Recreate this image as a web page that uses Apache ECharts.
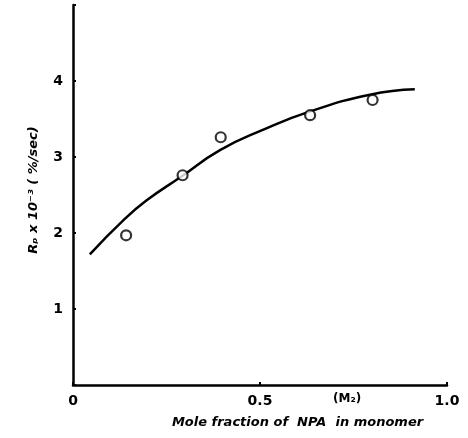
<!DOCTYPE html>
<html>
<head>
<meta charset="utf-8">
<script src="https://cdn.jsdelivr.net/npm/echarts@6/dist/echarts.min.js"></script>
<style>
  html, body { margin: 0; padding: 0; background: #fff; }
  #main { width: 468px; height: 438px; }
</style>
</head>
<body>
<div id="main"></div>
<script>
// measured points (mole fraction, Rp x 10^-3)
var pointX = [0.142, 0.293, 0.395, 0.634, 0.801];
var pointY = [1.97, 2.76, 3.26, 3.55, 3.75];

// fitted curve drawn through the points
var curveX = [0.045, 0.135, 0.197, 0.286, 0.393, 0.509, 0.634, 0.794, 0.914];
var curveY = [1.72, 2.17, 2.43, 2.73, 3.09, 3.36, 3.60, 3.82, 3.89];

var xTicks = { 0: "0", 0.5: "0.5", 1: "1.0" };

var chart = echarts.init(document.getElementById("main"));
var font = "DejaVu Sans";

var option = {
  backgroundColor: "#fff",
  animation: false,
  grid: { left: 73, right: 21, top: 5, bottom: 53, outerBoundsMode: "none", containLabel: false },
  xAxis: {
    type: "value",
    min: 0,
    max: 1,
    interval: 0.5,
    name: "Mole fraction of  NPA  in monomer",
    nameLocation: "middle",
    nameGap: 31,
    nameTextStyle: {
      fontFamily: font, fontSize: 13, fontWeight: "bold", fontStyle: "italic",
      color: "#000", padding: [0, 0, 0, 75]
    },
    axisLine: { lineStyle: { color: "#000", width: 2.5 } },
    axisTick: { show: true, inside: true, length: 3, lineStyle: { color: "#000", width: 2 } },
    axisLabel: {
      fontFamily: font, fontSize: 14, fontWeight: "bold", color: "#000", margin: 9,
      formatter: function (v) { return xTicks[v] !== undefined ? xTicks[v] : ""; }
    },
    splitLine: { show: false }
  },
  yAxis: {
    type: "value",
    min: 0,
    max: 5,
    interval: 1,
    name: "Rₚ x 10⁻³ ( %/sec)",
    nameLocation: "middle",
    nameRotate: 90,
    nameGap: 33,
    nameTextStyle: {
      fontFamily: font, fontSize: 13, fontWeight: "bold", fontStyle: "italic", color: "#000",
      padding: [0, 0, 0, 10]
    },
    axisLine: { lineStyle: { color: "#000", width: 2.5 } },
    axisTick: { show: true, inside: true, length: 3, lineStyle: { color: "#000", width: 2 } },
    axisLabel: {
      fontFamily: font, fontSize: 14, fontWeight: "bold", color: "#000", margin: 10,
      formatter: function (v) { return (v === 0 || v === 5) ? "" : String(v); }
    },
    splitLine: { show: false }
  },
  graphic: [{
    type: "text",
    left: 333,
    top: 393,
    style: { text: "(M₂)", fontFamily: font, fontSize: 12, fontWeight: "bold", fill: "#000" }
  }],
  series: [
    {
      type: "line",
      smooth: 0.5,
      showSymbol: false,
      lineStyle: { color: "#000", width: 2.5 },
      data: curveX.map(function (x, i) { return [x, curveY[i]]; })
    },
    {
      type: "scatter",
      symbol: "circle",
      symbolSize: 10,
      itemStyle: { color: "#fff", borderColor: "#000", borderWidth: 2.2 },
      z: 3,
      data: pointX.map(function (x, i) { return [x, pointY[i]]; })
    }
  ]
};

chart.setOption(option);
</script>
</body>
</html>
